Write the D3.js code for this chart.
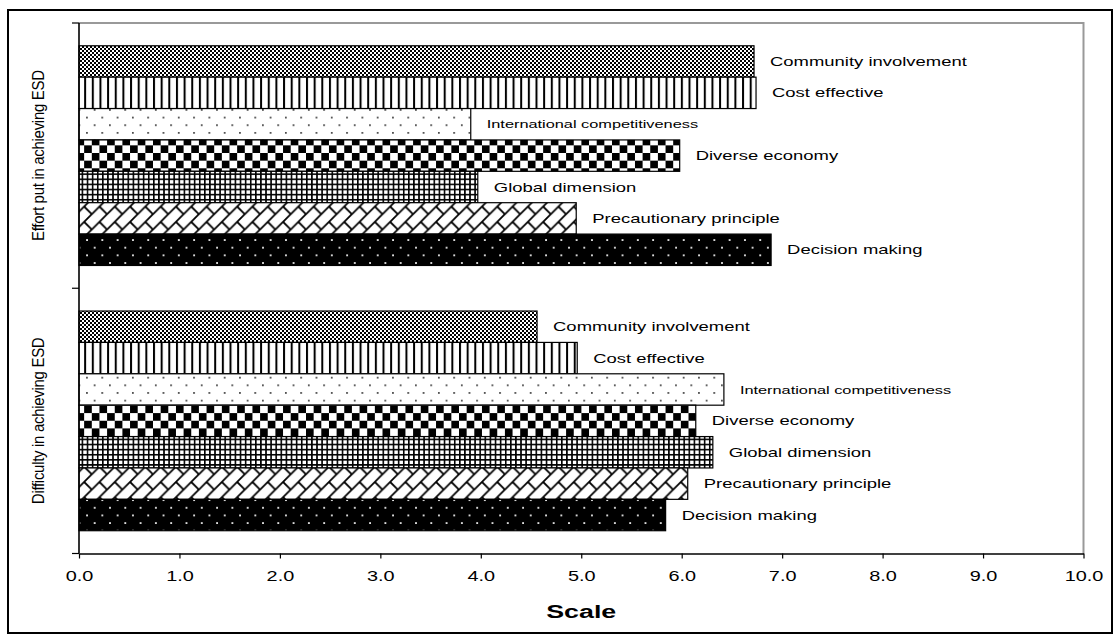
<!DOCTYPE html>
<html>
<head>
<meta charset="utf-8">
<script src="https://cdn.jsdelivr.net/npm/d3@7/dist/d3.min.js"></script>
<style>
  html, body { margin: 0; padding: 0; background: #fff; }
  svg { display: block; }
  text { font-family: Arial, "Liberation Sans", sans-serif; fill: #000; }
</style>
</head>
<body>
<svg id="chart" width="1115" height="637"></svg>
<script>
// Two groups of ESD ratings, each with the same seven factors
const groups = ["Effort put in achieving ESD", "Difficulty in achieving ESD"];
const categories = [
  "Community involvement",
  "Cost effective",
  "International competitiveness",
  "Diverse economy",
  "Global dimension",
  "Precautionary principle",
  "Decision making"
];
const effortValues = [6.72, 6.74, 3.90, 5.98, 3.97, 4.95, 6.89];
const difficultyValues = [4.56, 4.96, 6.42, 6.14, 6.31, 6.06, 5.84];
const xTicks = [0, 1, 2, 3, 4, 5, 6, 7, 8, 9, 10];
const xTitle = "Scale";

(function () {
const groupValues = [effortValues, difficultyValues];
const rows = [];
groups.forEach((g, gi) => {
  categories.forEach((c, ci) => rows.push({ group: g, category: c, value: groupValues[gi][ci], idx: ci }));
});

const svg = d3.select("#chart");
const plotLeft = 79, plotRight = 1083.5, plotTop = 23, plotBottom = 553.5;
const stretch = 1.42; // wide horizontal lettering

const x = d3.scaleLinear().domain([0, 10]).range([plotLeft, plotRight]);
const yGroup = d3.scaleBand().domain(groups).range([plotTop, plotBottom]).paddingInner(0).paddingOuter(0);
const yBar = d3.scaleBand().domain(categories).range([0, yGroup.bandwidth()]).paddingInner(0).paddingOuter(0.726);

// ---- fill patterns, one per factor ----
const defs = svg.append("defs");
const T = 15.3, h = T / 2;

function pattern(id, w, hgt) {
  return defs.append("pattern").attr("id", id).attr("patternUnits", "userSpaceOnUse")
    .attr("width", w).attr("height", hgt);
}
// fine 50% dither
let p = pattern("pat0", 4, 4);
p.append("rect").attr("width", 4).attr("height", 4).attr("fill", "#fff");
p.append("rect").attr("width", 2).attr("height", 2).attr("fill", "#000");
p.append("rect").attr("x", 2).attr("y", 2).attr("width", 2).attr("height", 2).attr("fill", "#000");
// light vertical lines
p = pattern("pat1", h, 10);
p.append("rect").attr("width", h).attr("height", 10).attr("fill", "#fff");
p.append("rect").attr("width", 2).attr("height", 10).attr("fill", "#000");
// sparse dots on white
p = pattern("pat2", T, T);
p.append("rect").attr("width", T).attr("height", T).attr("fill", "#fff");
p.append("rect").attr("x", 2).attr("y", 2).attr("width", 1.6).attr("height", 1.6).attr("fill", "#222");
p.append("rect").attr("x", 2 + h).attr("y", 2 + h).attr("width", 1.6).attr("height", 1.6).attr("fill", "#222");
// large checker board
p = pattern("pat3", T, T);
p.append("rect").attr("width", T).attr("height", T).attr("fill", "#fff");
p.append("rect").attr("width", h).attr("height", h).attr("fill", "#000");
p.append("rect").attr("x", h).attr("y", h).attr("width", h).attr("height", h).attr("fill", "#000");
// small grid
const g4 = T / 3;
p = pattern("pat4", g4, g4);
p.append("rect").attr("width", g4).attr("height", g4).attr("fill", "#fff");
p.append("rect").attr("width", 1.6).attr("height", g4).attr("fill", "#000");
p.append("rect").attr("width", g4).attr("height", 1.6).attr("fill", "#000");
// diagonal brick
p = pattern("pat5", T, T);
p.append("rect").attr("width", T).attr("height", T).attr("fill", "#fff");
p.append("path")
  .attr("d", `M0,${T} L${T},0 M-2,2 L2,-2 M${T - 2},${T + 2} L${T + 2},${T - 2} M${h},${h} L${T},${T}`)
  .attr("stroke", "#000").attr("stroke-width", 1.8).attr("fill", "none");
// white dots on black
p = pattern("pat6", T, T);
p.append("rect").attr("width", T).attr("height", T).attr("fill", "#000");
p.append("rect").attr("x", 2).attr("y", 2).attr("width", 1.8).attr("height", 1.8).attr("fill", "#eee");
p.append("rect").attr("x", 2 + h).attr("y", 2 + h).attr("width", 1.8).attr("height", 1.8).attr("fill", "#eee");

// ---- outer border ----
svg.append("rect").attr("x", 8).attr("y", 10).attr("width", 1104).attr("height", 623)
  .attr("fill", "none").attr("stroke", "#000").attr("stroke-width", 2);

// ---- plot frame (top and right edges) ----
svg.append("path")
  .attr("d", `M${plotLeft},${plotTop} H${plotRight} V${plotBottom}`)
  .attr("fill", "none").attr("stroke", "#999").attr("stroke-width", 2);

// ---- bars ----
const barG = svg.append("g");
barG.selectAll("rect").data(rows).join("rect")
  .attr("x", x(0))
  .attr("y", d => yGroup(d.group) + yBar(d.category))
  .attr("width", d => x(d.value) - x(0))
  .attr("height", yBar.bandwidth())
  .attr("fill", d => `url(#pat${d.idx})`)
  .attr("stroke", "#000").attr("stroke-width", 1.2);

// ---- value-end labels with factor names ----
barG.selectAll("text").data(rows).join("text")
  .attr("transform", d => `translate(${x(d.value) + 16},${yGroup(d.group) + yBar(d.category) + yBar.bandwidth() / 2}) scale(${stretch},1)`)
  .attr("dy", "0.35em")
  .style("font-size", d => d.category === "International competitiveness" ? "11.5px" : "13px")
  .text(d => d.category);

// ---- x axis ----
const xAxis = svg.append("g").attr("transform", `translate(0,${plotBottom})`)
  .call(d3.axisBottom(x).tickValues(xTicks).tickFormat(d3.format(".1f")).tickSizeInner(5).tickSizeOuter(0));
xAxis.select(".domain").attr("stroke", "#000").attr("stroke-width", 1.6);
xAxis.selectAll(".tick line").attr("stroke", "#000").attr("stroke-width", 1.2);
xAxis.selectAll(".tick text")
  .attr("y", 28).attr("dy", 0)
  .attr("transform", `scale(${stretch},1)`)
  .style("font-size", "14px").style("font-family", "Arial, 'Liberation Sans', sans-serif").attr("fill", "#000");

svg.append("text")
  .attr("transform", `translate(${(plotLeft + plotRight) / 2},618) scale(1.45,1)`)
  .attr("text-anchor", "middle")
  .style("font-size", "18.5px").style("font-weight", "bold")
  .text(xTitle);

// ---- y axis: line, group boundary ticks, rotated group names ----
svg.append("line").attr("x1", plotLeft).attr("x2", plotLeft).attr("y1", plotTop).attr("y2", plotBottom)
  .attr("stroke", "#000").attr("stroke-width", 1.6);
const edges = groups.map(g => yGroup(g)).concat([yGroup.range()[1]]);
svg.selectAll(".ytick").data(edges).join("line").attr("class", "ytick")
  .attr("x1", plotLeft - 7).attr("x2", plotLeft).attr("y1", d => d).attr("y2", d => d)
  .attr("stroke", "#000").attr("stroke-width", 1.2);
svg.selectAll(".ylab").data(groups).join("text").attr("class", "ylab")
  .attr("transform", d => `translate(44,${yGroup(d) + yGroup.bandwidth() / 2}) scale(1.1,1) rotate(-90)`)
  .attr("text-anchor", "middle")
  .style("font-size", "15px").style("letter-spacing", "-0.3px")
  .text(d => d);
})();
</script>
</body>
</html>
